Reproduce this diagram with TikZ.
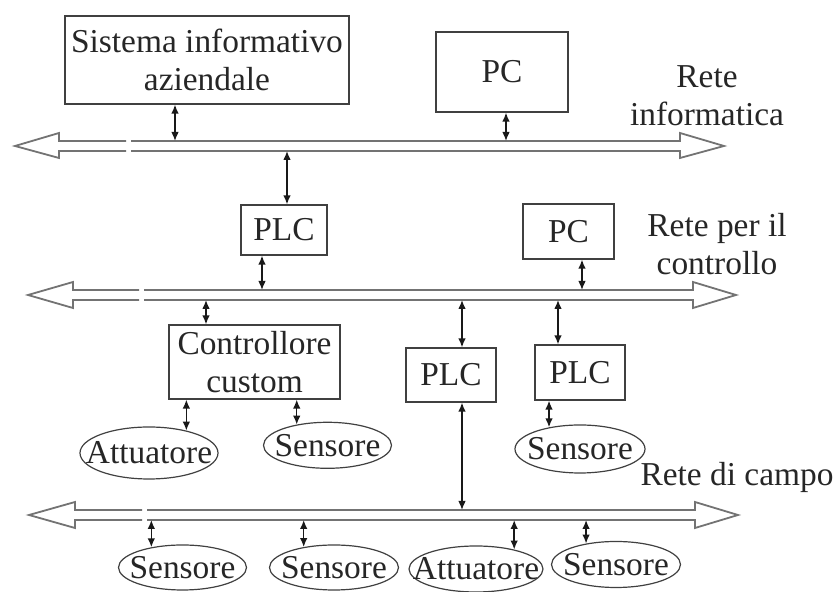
\documentclass[tikz,border=0pt]{standalone}
\usepackage{fontspec}
\setmainfont{Liberation Serif}
\usetikzlibrary{arrows.meta,shapes.geometric}
\begin{document}
\begin{tikzpicture}[x=0.5pt,y=-0.5pt,
  font=\fontsize{16.7}{19}\selectfont,
  every node/.style={text=black!85},
  box/.style={draw=black!75,line width=0.6pt,inner sep=0pt,align=center},
  dev/.style={draw=black!75,line width=0.6pt,ellipse,inner sep=0pt},
  link/.style={{Latex[length=4.5pt,width=3.8pt]}-{Latex[length=4.5pt,width=3.8pt]},line width=0.75pt,black!90},
  busline/.style={draw=black!55,line width=0.9pt,line join=miter},
  lbl/.style={align=center,inner sep=0pt}]
\useasboundingbox (0,0) rectangle (837,592);

% ---- networks (hollow double-headed buses with a break) ----
% Rete informatica
\draw[busline] (126,141) -- (59,141) -- (59,133) -- (15,146) -- (59,158) -- (59,151) -- (126,151);
\draw[busline] (131,141) -- (680,141) -- (680,133) -- (724,146) -- (680,158) -- (680,151) -- (131,151);
% Rete per il controllo
\draw[busline] (139,290) -- (73,290) -- (73,282) -- (28,295) -- (73,308) -- (73,300) -- (139,300);
\draw[busline] (144,290) -- (693,290) -- (693,282) -- (736,295) -- (693,308) -- (693,300) -- (144,300);
% Rete di campo
\draw[busline] (142,510) -- (75,510) -- (75,502) -- (29,515) -- (75,528) -- (75,520) -- (142,520);
\draw[busline] (147,510) -- (695,510) -- (695,502) -- (738,515) -- (695,528) -- (695,520) -- (147,520);

% ---- network labels ----
\node[lbl] (l1) at (707,96) {Rete\\informatica};
\node[lbl] (l2) at (717,244) {Rete per il\\controllo};
\node[lbl] (l3) at (737,477) {Rete di campo};

% ---- devices ----
\node[box,minimum width=142pt,minimum height=44pt] (sia) at (207,60) {Sistema informativo\\aziendale};
\node[box,minimum width=66pt,minimum height=40pt] (pc1) at (502,72) {PC};
\node[box,minimum width=43pt,minimum height=25pt] (plc1) at (284,230) {PLC};
\node[box,minimum width=45.5pt,minimum height=27.5pt] (pc2) at (568.5,231.5) {PC};
\node[box,minimum width=85.5pt,minimum height=37pt] (cc) at (254.5,362) {Controllore\\custom};
\node[box,minimum width=45pt,minimum height=27pt] (plc2) at (451,375) {PLC};
\node[box,minimum width=45pt,minimum height=27.5pt] (plc3) at (580,372.5) {PLC};

\node[dev,minimum width=69pt,minimum height=26pt] (att1) at (149,453) {\makebox[0pt]{Attuatore}};
\node[dev,minimum width=64pt,minimum height=23pt] (sen1) at (327.5,445.3) {\makebox[0pt]{Sensore}};
\node[dev,minimum width=65pt,minimum height=24pt] (sen2) at (580,449) {\makebox[0pt]{Sensore}};
\node[dev,minimum width=64pt,minimum height=22.5pt] (sen3) at (182.5,567.5) {\makebox[0pt]{Sensore}};
\node[dev,minimum width=64.5pt,minimum height=22.5pt] (sen4) at (334,567.5) {\makebox[0pt]{Sensore}};
\node[dev,minimum width=67pt,minimum height=23pt] (att2) at (476,569) {\makebox[0pt]{Attuatore}};
\node[dev,minimum width=64.5pt,minimum height=23pt] (sen5) at (616,564.5) {\makebox[0pt]{Sensore}};

% ---- attachment points on the buses ----
\coordinate (p1) at (175,141);
\coordinate (p2) at (506,141);
\coordinate (p3) at (287,151);
\coordinate (p4) at (262,290);
\coordinate (p5) at (582,290);
\coordinate (p6) at (206,300);
\coordinate (p7) at (462,300);
\coordinate (p8) at (558,300);
\coordinate (p9) at (462,510);
\coordinate (b3b) at (0,520);

% ---- connections ----
\draw[link] (sia.south -| p1) -- (p1);
\draw[link] (pc1.south -| p2) -- (p2);
\draw[link] (p3) -- (plc1.north -| p3);
\draw[link] (plc1.south -| p4) -- (p4);
\draw[link] (pc2.south -| p5) -- (p5);
\draw[link] (p6) -- (cc.north -| p6);
\draw[link] (p7) -- (plc2.north -| p7);
\draw[link] (p8) -- (plc3.north -| p8);
\draw[link] (plc2.south -| p9) -- (p9);
\draw[link] (cc.south -| att1.31) -- (att1.31);
\draw[link] (cc.south -| sen1.146) -- (sen1.146);
\draw[link] (plc3.south -| sen2.145) -- (sen2.145);
\draw[link] (sen3.147 |- b3b) -- (sen3.147);
\draw[link] (sen4.146 |- b3b) -- (sen4.146);
\draw[link] (att2.27 |- b3b) -- (att2.27);
\draw[link] (sen5.145 |- b3b) -- (sen5.145);
\end{tikzpicture}
\end{document}
